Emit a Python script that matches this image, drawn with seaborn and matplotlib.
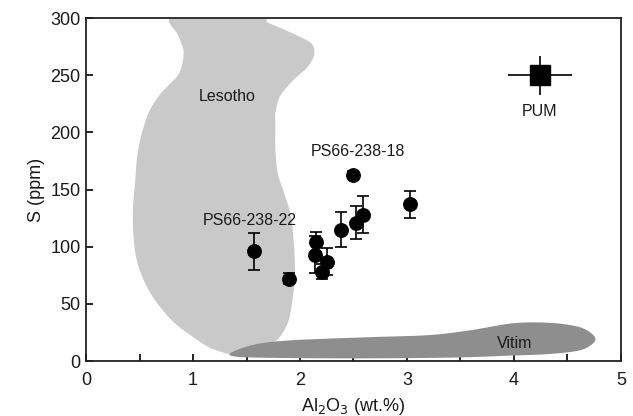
import numpy as np
import pandas as pd
import matplotlib
matplotlib.use("Agg")
import matplotlib.pyplot as plt
import seaborn as sns

# 시료 데이터 (Al2O3 wt.%, S ppm, 오차)
al2o3 = [1.57, 1.90, 2.15, 2.14, 2.21, 2.25, 2.38, 2.52, 2.59, 3.03, 2.50]
sulfur = [96, 72, 104, 93, 78, 87, 115, 121, 128, 137, 163]
s_err = [16, 5, 9, 16, 6.5, 12, 15.5, 14.5, 16, 12, 3]

# PUM
pum_x = [4.24]
pum_y = [250]
pum_xerr = [0.3]
pum_yerr = [17]

# 영역 외곽선
lesotho_x = [0.79, 0.86, 0.91, 0.90, 0.86, 0.78, 0.69, 0.60, 0.53, 0.48, 0.46, 0.44, 0.44,
             0.46, 0.50, 0.58, 0.69, 0.83, 1.00, 1.15, 1.31, 1.40, 1.55, 1.68, 1.78, 1.86,
             1.91, 1.95, 1.95, 1.94, 1.91, 1.84, 1.79, 1.77, 1.77, 1.77, 1.81, 1.90, 1.97,
             2.05, 2.10, 2.13, 2.13, 2.09, 2.01, 1.85, 1.70, 1.64, 1.2]
lesotho_y = [300, 285, 272, 260, 250, 242, 233, 220, 202, 180, 158, 135, 115,
             95, 80, 63, 47.5, 33, 21, 12, 6.7, 6, 9, 13, 18, 28,
             42, 71, 90, 106, 129, 150, 165, 185, 205, 217, 231, 242, 248.6,
             255, 261, 267, 274, 279, 283, 290, 296, 300, 300]
vitim_x = [1.34, 1.45, 1.63, 1.90, 2.25, 2.70, 3.21, 3.60, 3.99, 4.31, 4.55, 4.68, 4.76,
           4.72, 4.60, 4.31, 3.90, 3.52, 3.00, 2.40, 1.90, 1.60, 1.41]
vitim_y = [6, 11, 15.4, 18, 19.5, 21, 22.7, 27, 33, 33.5, 31, 27, 20,
           14, 9, 6, 4.5, 3.2, 2.5, 2.3, 2.6, 3, 3.7]


def smooth_outline(xs, ys, n=12):
    # 닫힌 외곽선을 Catmull-Rom 곡선으로 부드럽게
    p = np.column_stack([xs, ys]).astype(float)
    m = len(p)
    out = []
    t = np.linspace(0, 1, n, endpoint=False)[:, None]
    for i in range(m):
        p0, p1, p2, p3 = p[i - 1], p[i], p[(i + 1) % m], p[(i + 2) % m]
        seg = 0.5 * ((2 * p1) + (-p0 + p2) * t + (2 * p0 - 5 * p1 + 4 * p2 - p3) * t ** 2
                     + (-p0 + 3 * p1 - 3 * p2 + p3) * t ** 3)
        out.append(seg)
    out = np.vstack(out)
    return out[:, 0], out[:, 1]


df = pd.DataFrame({'Al2O3': al2o3, 'S': sulfur})

sns.set_style("ticks")
plt.rcParams['font.family'] = ['Liberation Sans', 'DejaVu Sans']

fig = plt.figure(figsize=(6.33, 4.16), dpi=100)
ax = fig.add_axes([0.1359, 0.1322, 0.8451, 0.8245])

# 영역
lx, ly = smooth_outline(lesotho_x, lesotho_y)
vx, vy = smooth_outline(vitim_x, vitim_y)
ax.fill(lx, ly, color='#c9c9c9', lw=0, zorder=1)
ax.fill(vx, vy, color='#8e8e8e', lw=0, zorder=1)

# 오차 막대 + 점
ax.errorbar(al2o3, sulfur, yerr=s_err, fmt='none', ecolor='black',
            elinewidth=1.2, capsize=4, capthick=1.2, zorder=2)
sns.scatterplot(data=df, x='Al2O3', y='S', color='black', s=115,
                edgecolor='black', linewidth=0, ax=ax, zorder=3)

ax.errorbar(pum_x, pum_y, xerr=pum_xerr, yerr=pum_yerr, fmt='s', color='black',
            ms=14, elinewidth=1.2, capsize=0, zorder=3)

# 라벨
lab = dict(fontsize=11.5, color='#1a1a1a', ha='center', va='center')
ax.text(1.32, 231, 'Lesotho', **lab)
ax.text(4.24, 218, 'PUM', **lab)
ax.text(2.54, 183, 'PS66-238-18', **lab)
ax.text(1.53, 122.5, 'PS66-238-22', **lab)
ax.text(4.01, 15.4, 'Vitim', **lab)

ax.set_xlim(0, 5)
ax.set_ylim(0, 300)
ax.set_xticks([0, 1, 2, 3, 4, 5])
ax.set_xticks(np.arange(0.5, 5, 1), minor=True)
ax.set_yticks([0, 50, 100, 150, 200, 250, 300])
ax.tick_params(axis='both', which='both', direction='in', length=5, width=1.2,
               labelsize=13, colors='black', labelcolor='#1a1a1a')
ax.tick_params(axis='x', pad=8)
ax.tick_params(axis='y', pad=4)

ax.set_xlabel('Al$_2$O$_3$ (wt.%)', fontsize=13, color='#1a1a1a', labelpad=5)
ax.set_ylabel('S (ppm)', fontsize=13, color='#1a1a1a', labelpad=4)

for sp in ax.spines.values():
    sp.set_linewidth(1.3)
    sp.set_color('#222222')

fig.savefig('out.png', dpi=100)
plt.close()
